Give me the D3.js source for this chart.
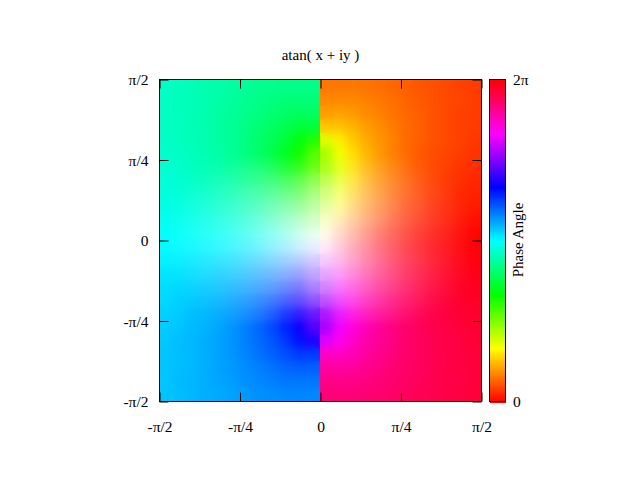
<!DOCTYPE html>
<html><head><meta charset="utf-8">
<script src="https://cdn.jsdelivr.net/npm/d3@7"></script>
<style>
html,body{margin:0;padding:0;background:#fff}
svg{display:block}
text{font-family:"Liberation Serif",serif;fill:#000}
.tick text{font-family:"Liberation Serif",serif;font-size:15.5px;fill:#000}
</style></head><body>
<script>
const titleText = "atan( x + iy )";
const barTitle = "Phase Angle";
const tickValues = [-Math.PI/2, -Math.PI/4, 0, Math.PI/4, Math.PI/2];
const tickLabels = ["-π/2", "-π/4", "0", "π/4", "π/2"];
const barTickValues = [0, 360];
const barTickLabels = ["0", "2π"];

// Hue in degrees of each cell: top row first, left column first.
const hueRows = [
[166,165,163,161,160,158,156,154,153,152,152,152,28,28,28,27,26,24,22,20,19,17,15,14],
[166,164,163,161,159,157,154,152,150,148,148,148,32,32,32,30,28,26,23,21,19,17,16,14],
[166,165,163,161,158,156,153,150,147,144,142,143,37,38,36,33,30,27,24,22,19,17,15,14],
[166,165,163,161,158,155,151,147,143,138,134,134,46,46,42,37,33,29,25,22,19,17,15,14],
[167,165,163,161,158,155,150,145,140,133,124,112,68,56,47,40,35,30,25,22,19,17,15,13],
[168,166,164,162,159,155,150,144,137,128,117,100,80,63,52,43,36,30,25,21,18,16,14,12],
[169,168,165,163,160,156,151,145,137,127,114,98,82,66,53,43,35,29,24,20,17,15,12,11],
[171,169,167,165,162,158,153,147,139,128,114,98,82,66,52,41,33,27,22,18,15,13,11,9],
[172,171,169,167,165,161,157,151,143,132,117,99,81,63,48,37,29,23,19,15,13,11,9,8],
[174,173,172,171,168,166,162,157,150,139,123,102,78,57,41,30,23,18,14,12,9,8,7,6],
[177,176,175,174,173,171,169,165,160,151,136,109,71,44,29,20,15,11,9,7,6,5,4,3],
[179,179,178,178,178,177,176,175,173,169,162,135,45,18,11,7,5,4,3,2,2,2,1,1],
[181,181,182,182,182,183,184,185,187,191,198,225,315,342,349,353,355,356,357,358,358,358,359,359],
[183,184,185,186,187,189,191,195,200,209,224,251,289,316,331,340,345,349,351,353,354,355,356,357],
[186,187,188,189,192,194,198,203,210,221,237,258,282,303,319,330,337,342,346,348,351,352,353,354],
[188,189,191,193,195,199,203,209,217,228,243,261,279,297,312,323,331,337,341,345,347,349,351,352],
[189,191,193,195,198,202,207,213,221,232,246,262,278,294,308,319,327,333,338,342,345,347,349,351],
[191,192,195,197,200,204,209,215,223,233,246,262,278,294,307,317,325,331,336,340,343,345,348,349],
[192,194,196,198,201,205,210,216,223,232,243,260,280,297,308,317,324,330,335,339,342,344,346,348],
[193,195,197,199,202,205,210,215,220,227,236,248,292,304,313,320,325,330,335,338,341,343,345,347],
[194,195,197,199,202,205,209,213,217,222,226,226,314,314,318,323,327,331,335,338,341,343,345,346],
[194,195,197,199,202,204,207,210,213,216,218,217,323,322,324,327,330,333,336,338,341,343,345,346],
[194,196,197,199,201,203,206,208,210,212,212,212,328,328,328,330,332,334,337,339,341,343,344,346],
[194,195,197,199,200,202,204,206,207,208,208,208,332,332,332,333,334,336,338,340,341,343,345,346]
];

// Colour strength of each cell in percent: 0 is white, 100 is the full hue.
const full = [100,100,100,100,100,100,100,100,100,100,100,100,100,100,100,100,100,100,100,100,100,100,100,100];
const strengthRows = [
full, full, full, full, full, full,
[100,100,100,99,97,94,91,89,88,88,89,91,91,89,88,88,89,91,94,97,99,100,100,100],
[100,100,98,95,91,87,83,79,75,71,69,68,68,69,71,75,79,83,87,91,95,98,100,100],
[100,99,95,91,86,81,75,69,63,58,53,50,50,53,58,63,69,75,81,86,91,95,99,100],
[100,97,92,87,82,76,69,62,54,46,39,35,35,39,46,54,62,69,76,82,87,92,97,100],
[99,95,90,85,79,73,65,56,47,37,28,21,21,28,37,47,56,65,73,79,85,90,95,99],
[99,94,89,84,78,71,63,54,43,32,20,9,9,20,32,43,54,63,71,78,84,89,94,99],
[99,94,89,84,78,71,63,54,43,32,20,9,9,20,32,43,54,63,71,78,84,89,94,99],
[99,95,90,85,79,73,65,56,47,37,28,21,21,28,37,47,56,65,73,79,85,90,95,99],
[100,97,92,87,82,76,69,62,54,46,39,35,35,39,46,54,62,69,76,82,87,92,97,100],
[100,99,95,91,86,81,75,69,63,58,53,50,50,53,58,63,69,75,81,86,91,95,99,100],
[100,100,98,95,91,87,83,79,75,71,69,68,68,69,71,75,79,83,87,91,95,98,100,100],
[100,100,100,99,97,94,91,89,88,88,89,91,91,89,88,88,89,91,94,97,99,100,100,100],
full, full, full, full, full, full
];

const W = 640, H = 480;
const plot = {x0:159.5, x1:481.5, y0:79.5, y1:401.5};
const bar = {x0:489.5, x1:505.5};

const x = d3.scaleLinear().domain([-Math.PI/2, Math.PI/2]).range([plot.x0, plot.x1]);
const y = d3.scaleLinear().domain([-Math.PI/2, Math.PI/2]).range([plot.y1, plot.y0]);
const colBand = d3.scaleBand().domain(d3.range(hueRows[0].length)).range([plot.x0, plot.x1]);
const rowBand = d3.scaleBand().domain(d3.range(hueRows.length)).range([plot.y0, plot.y1]);
const barY = d3.scaleLinear().domain([0,360]).range([plot.y1, plot.y0]);

// Full-value HSV expressed in HSL
const colour = (h, pct) => d3.hsl(h, 1, 1 - pct/200).formatRgb();

const cells = hueRows.flatMap((row, r) => row.map((h, c) => ({r, c, h, s: strengthRows[r][c]})));

const svg = d3.select("body").append("svg").attr("width", W).attr("height", H);
const defs = svg.append("defs");
defs.append("filter").attr("id","soft")
  .attr("filterUnits","userSpaceOnUse").attr("x",0).attr("y",0).attr("width",W).attr("height",H)
  .attr("color-interpolation-filters","sRGB")
  .append("feGaussianBlur").attr("stdDeviation",4);

// The seam sits on a whole pixel so that neither half leaves a pale line.
const seam = Math.floor(x(0));
const halves = [
  {id:"leftHalf",  a:plot.x0, b:seam, keep:d => d.c < 12},
  {id:"rightHalf", a:seam, b:plot.x1, keep:d => d.c >= 12}
];
halves.forEach(half => {
  defs.append("clipPath").attr("id", half.id).append("rect")
    .attr("x", half.a).attr("y", plot.y0).attr("width", half.b - half.a).attr("height", plot.y1 - plot.y0);
  const g = svg.append("g").attr("clip-path", `url(#${half.id})`);
  const draw = sel => sel.selectAll("rect").data(cells.filter(half.keep)).join("rect")
    .attr("x", d => colBand(d.c) - 1).attr("y", d => rowBand(d.r))
    .attr("width", colBand.bandwidth() + 2).attr("height", rowBand.bandwidth() + 0.6)
    .attr("fill", d => colour(d.h, d.s));
  draw(g.append("g"));
  draw(g.append("g").attr("filter","url(#soft)"));
});

// Colour bar
const barHues = d3.range(0, 360, 1);
svg.append("g").attr("shape-rendering","crispEdges").selectAll("rect").data(barHues).join("rect")
  .attr("x", bar.x0).attr("width", bar.x1 - bar.x0)
  .attr("y", d => barY(d + 1)).attr("height", d => barY(d) - barY(d + 1) + 1)
  .attr("fill", d => colour(d, 100));
svg.append("rect").attr("x", bar.x0).attr("y", plot.y0).attr("width", bar.x1 - bar.x0).attr("height", plot.y1 - plot.y0)
  .attr("fill","none").attr("stroke","#000");

// Axes
const tickLen = 9;
const fmt = (d, i) => tickLabels[i];
const style = g => { g.select(".domain").remove(); g.selectAll(".tick line").attr("stroke","#000"); };
svg.append("g").attr("transform",`translate(0,${plot.y1})`)
  .call(d3.axisBottom(x).tickValues(tickValues).tickSizeInner(-tickLen).tickSizeOuter(0).tickPadding(19).tickFormat(fmt)).call(style);
svg.append("g").attr("transform",`translate(${plot.x0},0)`)
  .call(d3.axisLeft(y).tickValues(tickValues).tickSizeInner(-tickLen).tickSizeOuter(0).tickPadding(11).tickFormat(fmt)).call(style)
  .call(g => g.selectAll(".tick text").attr("dy","0.34em"));
svg.append("g").attr("transform",`translate(0,${plot.y0})`)
  .call(d3.axisTop(x).tickValues(tickValues).tickSizeInner(-tickLen).tickSizeOuter(0).tickFormat("")).call(style);
svg.append("g").attr("transform",`translate(${plot.x1},0)`)
  .call(d3.axisRight(y).tickValues(tickValues).tickSizeInner(-tickLen).tickSizeOuter(0).tickFormat("")).call(style);
svg.append("rect").attr("x", plot.x0).attr("y", plot.y0).attr("width", plot.x1 - plot.x0).attr("height", plot.y1 - plot.y0)
  .attr("fill","none").attr("stroke","#000");

// Colour bar labels
svg.append("g").attr("transform",`translate(${bar.x1},0)`)
  .call(d3.axisRight(barY).tickValues(barTickValues).tickSize(0).tickPadding(7.5).tickFormat((d,i)=>barTickLabels[i]))
  .call(g => g.select(".domain").remove())
  .call(g => g.selectAll(".tick text").attr("dy","0.34em"));

svg.append("text").attr("x", 320.5).attr("y", 60).attr("text-anchor","middle").attr("font-size",15).text(titleText);
svg.append("text").attr("transform","translate(523,240) rotate(-90)").attr("text-anchor","middle").attr("font-size",15).text(barTitle);
</script>
</body></html>
